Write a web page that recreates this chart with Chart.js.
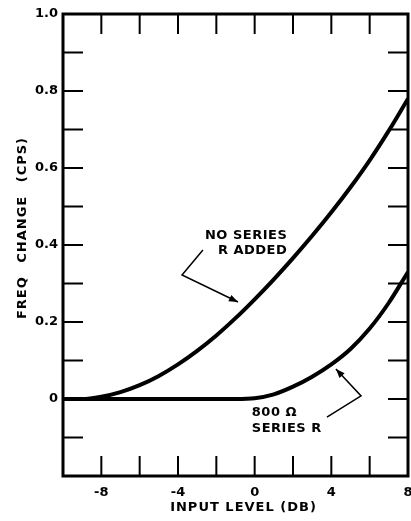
<!DOCTYPE html>
<html>
<head>
<meta charset="utf-8">
<script src="https://cdn.jsdelivr.net/npm/chart.js@4.4.1/dist/chart.umd.min.js"></script>
<style>
  html, body { margin: 0; padding: 0; background: #ffffff; }
  #wrap { width: 411px; height: 521px; position: relative; }
</style>
</head>
<body>
<div id="wrap"><canvas id="c"></canvas></div>
<script>
// ---- data ----
const inputLevelDb = [-10, -9, -8, -7, -6, -5, -4, -3, -2, -1, 0, 1, 2, 3, 4, 5, 6, 7, 8];
const noSeriesR    = [0, 0, 0.006, 0.018, 0.036, 0.06, 0.09, 0.125, 0.165, 0.21, 0.259, 0.311, 0.366, 0.424, 0.485, 0.55, 0.62, 0.697, 0.78];
const series800Ohm = [0, 0, 0, 0, 0, 0, 0, 0, 0, 0, 0.002, 0.012, 0.032, 0.058, 0.09, 0.13, 0.183, 0.25, 0.33];

const xLabelValues = [-8, -4, 0, 4, 8];
const xLabelText   = ['-8', '-4', '0', '4', '8'];
const yLabelValues = [0, 0.2, 0.4, 0.6, 0.8, 1.0];
const yLabelText   = ['0', '0.2', '0.4', '0.6', '0.8', '1.0'];

const xTitle = 'INPUT LEVEL (DB)';
const yTitle = 'FREQ CHANGE (CPS)';

// annotation texts and arrows, in data units
const noteTexts = [
  { text: 'NO SERIES', x: 1.7, y: 0.425, align: 'right' },
  { text: 'R ADDED',   x: 1.7, y: 0.385, align: 'right' },
  { text: '800 Ω',     x: -0.15, y: -0.036, align: 'left' },
  { text: 'SERIES R',  x: -0.15, y: -0.078, align: 'left' }
];
const noteArrows = [
  [[-2.70, 0.387], [-3.79, 0.322], [-0.87, 0.252]],
  [[3.77, -0.047], [5.55, 0.008], [4.24, 0.078]]
];

function toPoints(xs, ys) { return xs.map((x, i) => ({ x: x, y: ys[i] })); }

const FONT_TITLE = 'bold 13px "DejaVu Sans"';

const framePlugin = {
  id: 'frame',
  beforeDraw(chart) {
    const ctx = chart.ctx;
    ctx.save();
    ctx.fillStyle = '#ffffff';
    ctx.fillRect(0, 0, chart.width, chart.height);
    ctx.restore();
  },
  afterDatasetsDraw(chart) {
    const ctx = chart.ctx;
    const a = chart.chartArea;
    const xs = chart.scales.x, ys = chart.scales.y;
    ctx.save();
    ctx.strokeStyle = '#000';
    ctx.lineCap = 'butt';
    // inward ticks
    ctx.lineWidth = 2;
    const tl = 20;
    xs.ticks.forEach(t => {
      const px = xs.getPixelForValue(t.value);
      if (px <= a.left + 2 || px >= a.right - 2) return;
      ctx.beginPath();
      ctx.moveTo(px, a.bottom); ctx.lineTo(px, a.bottom - tl);
      ctx.moveTo(px, a.top); ctx.lineTo(px, a.top + tl);
      ctx.stroke();
    });
    ys.ticks.forEach(t => {
      const py = ys.getPixelForValue(t.value);
      if (py <= a.top + 2 || py >= a.bottom - 2) return;
      ctx.beginPath();
      ctx.moveTo(a.left, py); ctx.lineTo(a.left + tl, py);
      ctx.moveTo(a.right, py); ctx.lineTo(a.right - tl, py);
      ctx.stroke();
    });
    // frame
    ctx.lineWidth = 3;
    ctx.strokeRect(a.left, a.top, a.right - a.left, a.bottom - a.top);

    // annotations
    ctx.fillStyle = '#000';
    ctx.font = FONT_TITLE;
    ctx.letterSpacing = '0.5px';
    ctx.textBaseline = 'middle';
    noteTexts.forEach(n => {
      ctx.textAlign = n.align;
      ctx.fillText(n.text, xs.getPixelForValue(n.x), ys.getPixelForValue(n.y));
    });
    ctx.lineWidth = 1.5;
    noteArrows.forEach(pts => {
      const p = pts.map(q => [xs.getPixelForValue(q[0]), ys.getPixelForValue(q[1])]);
      ctx.beginPath();
      ctx.moveTo(p[0][0], p[0][1]);
      for (let i = 1; i < p.length; i++) ctx.lineTo(p[i][0], p[i][1]);
      ctx.stroke();
      const tip = p[p.length - 1], prev = p[p.length - 2];
      const ang = Math.atan2(tip[1] - prev[1], tip[0] - prev[0]);
      const L = 9, W = 3.5;
      ctx.beginPath();
      ctx.moveTo(tip[0], tip[1]);
      ctx.lineTo(tip[0] - L * Math.cos(ang) + W * Math.sin(ang), tip[1] - L * Math.sin(ang) - W * Math.cos(ang));
      ctx.lineTo(tip[0] - L * Math.cos(ang) - W * Math.sin(ang), tip[1] - L * Math.sin(ang) + W * Math.cos(ang));
      ctx.closePath();
      ctx.fill();
    });

    // axis titles
    ctx.font = FONT_TITLE;
    ctx.letterSpacing = '1px';
    ctx.textAlign = 'center';
    ctx.textBaseline = 'middle';
    ctx.fillText(xTitle, (a.left + a.right) / 2 + 8, 508);
    ctx.save();
    ctx.translate(23, 228);
    ctx.rotate(-Math.PI / 2);
    ctx.wordSpacing = '8px';
    ctx.fillText(yTitle, 0, 0);
    ctx.restore();
    ctx.restore();
  }
};

new Chart(document.getElementById('c'), {
  type: 'line',
  data: {
    datasets: [
      {
        label: 'No series R added',
        data: toPoints(inputLevelDb, noSeriesR),
        borderColor: '#000', borderWidth: 4, pointRadius: 0,
        cubicInterpolationMode: 'monotone', fill: false
      },
      {
        label: '800 Ω series R',
        data: toPoints(inputLevelDb, series800Ohm),
        borderColor: '#000', borderWidth: 4, pointRadius: 0,
        cubicInterpolationMode: 'monotone', fill: false
      }
    ]
  },
  options: {
    responsive: true,
    maintainAspectRatio: false,
    animation: false,
    events: [],
    layout: { padding: { top: 14, right: 3, left: 0, bottom: 0 } },
    plugins: { legend: { display: false }, tooltip: { enabled: false }, title: { display: false } },
    scales: {
      x: {
        type: 'linear', min: -10, max: 8,
        grid: { display: false, drawTicks: false },
        border: { display: false },
        ticks: {
          stepSize: 2, padding: 9, color: '#000', maxRotation: 0, autoSkip: false,
          font: { family: 'DejaVu Sans', weight: 'bold', size: 13 },
          callback: v => {
            const i = xLabelValues.findIndex(q => Math.abs(q - v) < 1e-6);
            return i >= 0 ? xLabelText[i] : '';
          }
        },
        afterFit: s => { s.height = 45; s.paddingLeft = 0; s.paddingRight = 0; }
      },
      y: {
        type: 'linear', min: -0.2, max: 1.0,
        grid: { display: false, drawTicks: false },
        border: { display: false },
        ticks: {
          stepSize: 0.1, padding: 5, color: '#000', autoSkip: false,
          font: { family: 'DejaVu Sans', weight: 'bold', size: 13 },
          callback: v => {
            const i = yLabelValues.findIndex(q => Math.abs(q - v) < 1e-6);
            return i >= 0 ? yLabelText[i] : '';
          }
        },
        afterFit: s => { s.width = 63; s.paddingTop = 0; s.paddingBottom = 0; }
      }
    }
  },
  plugins: [framePlugin]
});
</script>
</body>
</html>
